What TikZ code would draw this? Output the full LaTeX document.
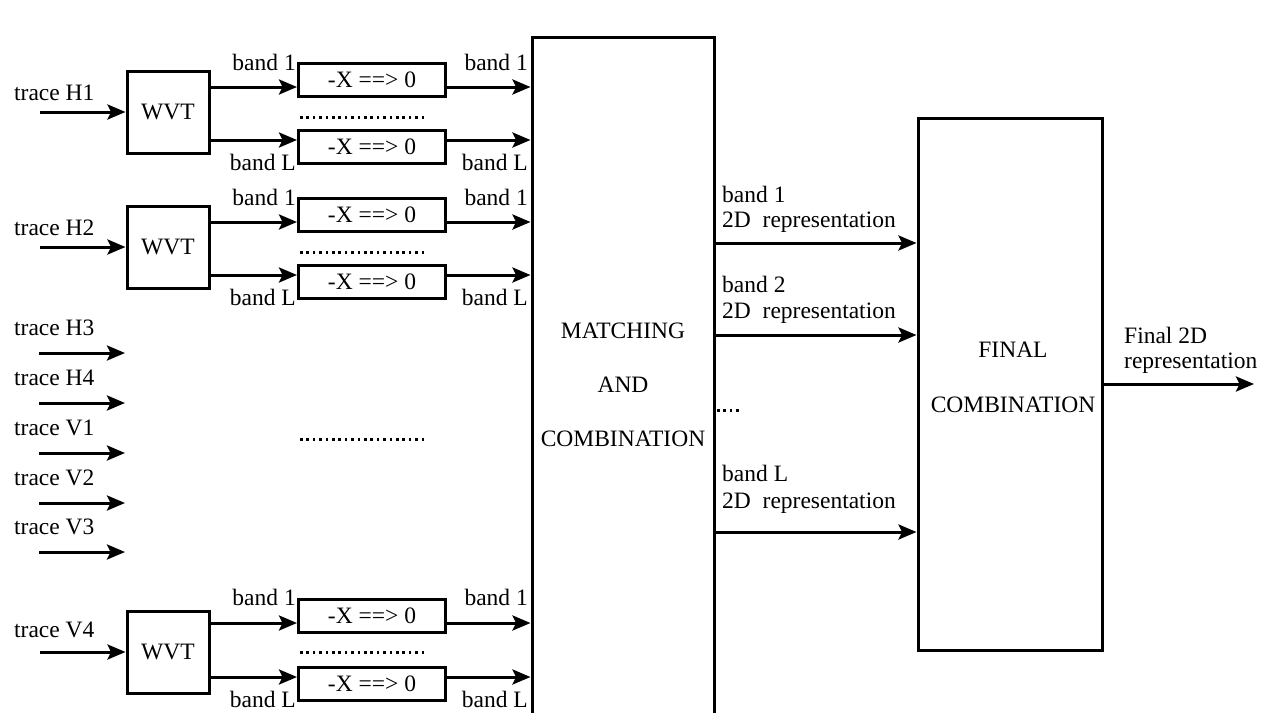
\documentclass[tikz,border=0pt]{standalone}
\usepackage{fontspec}
\setmainfont{Liberation Serif}
\usetikzlibrary{arrows.meta}

\tikzset{
  wvtbox/.style={draw,line width=3pt,minimum width=82pt,minimum height=82pt,inner sep=0pt},
  thrbox/.style={draw,line width=3pt,minimum width=147pt,minimum height=33pt,inner sep=0pt},
  bigbox/.style={draw,line width=3pt,inner sep=0pt},
  txt/.style={inner sep=0pt,anchor=base west},
  arr/.style={line width=3pt,-{Stealth[length=18pt,width=15pt,inset=3.5pt]}},
  dotline/.style={line width=3pt,dash pattern=on 2.6pt off 3.8pt}
}

\begin{document}
\begin{tikzpicture}[x=1pt,y=-1pt,font=\fontsize{23.5}{25}\selectfont]
            \useasboundingbox (0,0) rectangle (1268,712);
            % central blocks
            \node[bigbox,minimum width=182pt,minimum height=700pt] (mc) at (623,387) {};
            \node[txt,anchor=base] (mct1) at (623,338) {MATCHING};
            \node[txt,anchor=base] (mct2) at (623,392) {AND};
            \node[txt,anchor=base] (mct3) at (623,446) {COMBINATION};
            \node[bigbox,minimum width=184pt,minimum height=532pt] (fc) at (1010,384) {};
            \node[txt,anchor=base] (fct1) at (1013,357) {FINAL};
            \node[txt,anchor=base] (fct2) at (1013,412) {COMBINATION};
            % trace H1
            \node[txt] (tH1) at (14,100) {trace H1};
            \coordinate (iH1) at (40,112);
            \node[wvtbox] (w1) at (168,112) {WVT};
            \node[thrbox] (b11) at (372,80) {-X ==> 0};
            \node[thrbox] (b12) at (372,147) {-X ==> 0};
            \draw[arr] (iH1) -- (w1);
            \draw[arr] ([yshift=-7pt]b11.west -| w1.east) -- ([yshift=-7pt]b11.west);
            \draw[arr] ([yshift=7pt]b12.west -| w1.east) -- ([yshift=7pt]b12.west);
            \draw[arr] ([yshift=-7pt]b11.east) -- ([yshift=-7pt]b11.east -| mc.west);
            \draw[arr] ([yshift=7pt]b12.east) -- ([yshift=7pt]b12.east -| mc.west);
            \node[txt,anchor=base east] (l11) at (296,70) {band 1};
            \node[txt,anchor=base east] (l12) at (296,170) {band L};
            \node[txt,anchor=base east] (r11) at (528,70) {band 1};
            \node[txt,anchor=base east] (r12) at (528,170) {band L};
            \draw[dotline] (300,117) -- (427,117);
            % trace H2
            \node[txt] (tH2) at (14,235) {trace H2};
            \coordinate (iH2) at (40,247);
            \node[wvtbox] (w2) at (168,247) {WVT};
            \node[thrbox] (b21) at (372,215) {-X ==> 0};
            \node[thrbox] (b22) at (372,282) {-X ==> 0};
            \draw[arr] (iH2) -- (w2);
            \draw[arr] ([yshift=-7pt]b21.west -| w2.east) -- ([yshift=-7pt]b21.west);
            \draw[arr] ([yshift=7pt]b22.west -| w2.east) -- ([yshift=7pt]b22.west);
            \draw[arr] ([yshift=-7pt]b21.east) -- ([yshift=-7pt]b21.east -| mc.west);
            \draw[arr] ([yshift=7pt]b22.east) -- ([yshift=7pt]b22.east -| mc.west);
            \node[txt,anchor=base east] (l21) at (296,205) {band 1};
            \node[txt,anchor=base east] (l22) at (296,305) {band L};
            \node[txt,anchor=base east] (r21) at (528,205) {band 1};
            \node[txt,anchor=base east] (r22) at (528,305) {band L};
            \draw[dotline] (300,252) -- (427,252);
            % traces without blocks
            \node[txt] (tH3) at (14,335) {trace H3};
            \node[txt] (tH4) at (14,385) {trace H4};
            \node[txt] (tV1) at (14,435) {trace V1};
            \node[txt] (tV2) at (14,485) {trace V2};
            \node[txt] (tV3) at (14,534) {trace V3};
            \coordinate (sH3) at (39,353); \coordinate (eH3) at (125,353);
            \coordinate (sH4) at (39,403); \coordinate (eH4) at (125,403);
            \coordinate (sV1) at (39,453); \coordinate (eV1) at (125,453);
            \coordinate (sV2) at (39,503); \coordinate (eV2) at (125,503);
            \coordinate (sV3) at (39,552); \coordinate (eV3) at (125,552);
            \draw[arr] (sH3) -- (eH3);
            \draw[arr] (sH4) -- (eH4);
            \draw[arr] (sV1) -- (eV1);
            \draw[arr] (sV2) -- (eV2);
            \draw[arr] (sV3) -- (eV3);
            \draw[dotline] (300,439) -- (427,439);
            % trace V4
            \node[txt] (tV4) at (14,637) {trace V4};
            \coordinate (iV4) at (40,652);
            \node[wvtbox] (w4) at (168,652) {WVT};
            \node[thrbox] (b41) at (372,616) {-X ==> 0};
            \node[thrbox] (b42) at (372,684) {-X ==> 0};
            \draw[arr] (iV4) -- (w4);
            \draw[arr] ([yshift=-7pt]b41.west -| w4.east) -- ([yshift=-7pt]b41.west);
            \draw[arr] ([yshift=7pt]b42.west -| w4.east) -- ([yshift=7pt]b42.west);
            \draw[arr] ([yshift=-7pt]b41.east) -- ([yshift=-7pt]b41.east -| mc.west);
            \draw[arr] ([yshift=7pt]b42.east) -- ([yshift=7pt]b42.east -| mc.west);
            \node[txt,anchor=base east] (l41) at (296,605) {band 1};
            \node[txt,anchor=base east] (l42) at (296,707) {band L};
            \node[txt,anchor=base east] (r41) at (528,605) {band 1};
            \node[txt,anchor=base east] (r42) at (528,707) {band L};
            \draw[dotline] (300,652) -- (427,652);
            % 2D representations
            \node[txt] (rb1) at (722,202) {band 1};
            \node[txt] (rr1) at (722,227) {2D\ \ representation};
            \node[txt] (rb2) at (722,292) {band 2};
            \node[txt] (rr2) at (722,318) {2D\ \ representation};
            \node[txt] (rbL) at (722,481) {band L};
            \node[txt] (rrL) at (722,508) {2D\ \ representation};
            \draw[arr] (mc.east |- 0,243) -- (fc.west |- 0,243);
            \draw[arr] (mc.east |- 0,335) -- (fc.west |- 0,335);
            \draw[arr] (mc.east |- 0,532) -- (fc.west |- 0,532);
            \draw[dotline] (717,410) -- (740,410);
            % final output
            \node[txt] (fo1) at (1124,343) {Final 2D};
            \node[txt] (fo2) at (1124,368) {representation};
            \coordinate (fout) at (1254,384);
            \draw[arr] (fc.east |- fout) -- (fout);
        \end{tikzpicture}
\end{document}
